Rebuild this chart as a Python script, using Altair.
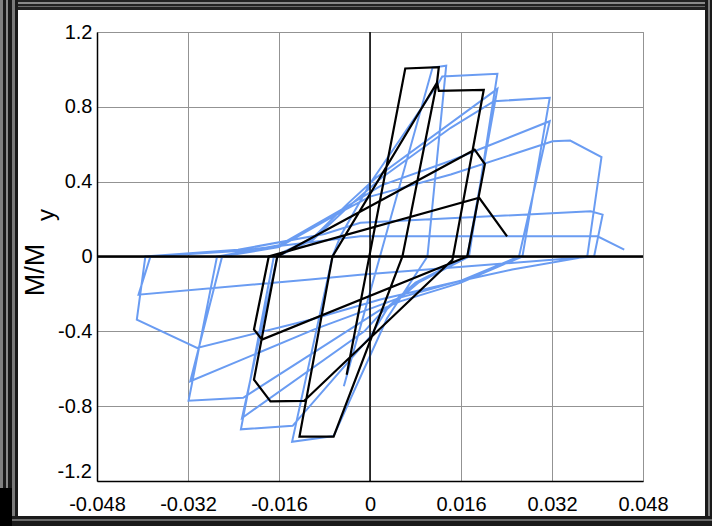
import altair as alt
import pandas as pd

# ---------------- data ----------------
blue_x = [-0.0046, 0.0110, 0.0134, 0.0101,
          0.0030, -0.0064, -0.0137, -0.0066,
          -0.0052, 0.0001, 0.0121, 0.0127, 0.0224, 0.0174,
          0.0085, 0.0030, 0.0000, -0.0136, -0.0227, -0.0169,
          -0.0100, -0.0040, 0.0010, 0.0224, 0.0171,
          0.0080, 0.0020, -0.0010, -0.0225, -0.0163,
          -0.0100, -0.0040, 0.0020, 0.0142, 0.0218, 0.0316, 0.0268,
          0.0159, 0.0053, 0.0018, -0.0223, -0.0319, -0.0269,
          -0.0160, -0.0050, 0.0020, 0.0142, 0.0316, 0.0262,
          0.0159, 0.0053, -0.0099, -0.0316, -0.0260,
          -0.0160, -0.0050, 0.0000, 0.0142, 0.0321, 0.0352, 0.0407, 0.0382,
          0.0250, 0.0160, 0.0018, -0.0105, -0.0304, -0.0410, -0.0395,
          -0.0232, -0.0080, -0.0017, 0.0388, 0.0409, 0.0394,
          0.0365, -0.0017, -0.0105, -0.0407, -0.0386,
          -0.0232, -0.0017, 0.0400, 0.0447]
blue_y = [-0.694, 1.010, 1.020, 0.000,
          -0.330, -0.960, -0.990, 0.000,
          0.108, 0.394, 0.930, 0.962, 0.977, 0.000,
          -0.140, -0.280, -0.430, -0.905, -0.924, 0.000,
          0.100, 0.280, 0.420, 0.896, 0.000,
          -0.140, -0.300, -0.400, -0.863, 0.000,
          0.090, 0.260, 0.420, 0.688, 0.830, 0.848, 0.000,
          -0.141, -0.240, -0.285, -0.755, -0.771, 0.000,
          0.060, 0.250, 0.380, 0.512, 0.723, 0.000,
          -0.130, -0.220, -0.391, -0.667, 0.000,
          0.050, 0.240, 0.320, 0.438, 0.616, 0.620, 0.531, 0.000,
          -0.070, -0.130, -0.230, -0.338, -0.489, -0.338, 0.000,
          0.036, 0.120, 0.180, 0.242, 0.224, 0.000,
          -0.007, -0.097, -0.123, -0.204, 0.000,
          0.030, 0.108, 0.108, 0.037]

black_x = [-0.0041, 0.0062, 0.0121, 0.0118, 0.0057,
           -0.0064, -0.0124, -0.0066,
           0.0118, 0.0121, 0.0200, 0.0145,
           -0.0116, -0.0175, -0.0204, -0.0163,
           0.0184, 0.0202, 0.0171,
           -0.0190, -0.0204, -0.0178,
           0.0192, 0.0241]
black_y = [-0.632, 1.005, 1.012, 0.935, 0.000,
           -0.963, -0.963, 0.000,
           0.930, 0.885, 0.891, -0.017,
           -0.772, -0.774, -0.658, 0.000,
           0.571, 0.494, 0.000,
           -0.444, -0.390, 0.000,
           0.314, 0.107]

x_ticks = [-0.048, -0.032, -0.016, 0, 0.016, 0.032, 0.048]
y_ticks = [-1.2, -0.8, -0.4, 0, 0.4, 0.8, 1.2]

blue_df = pd.DataFrame({"x": blue_x, "y": blue_y, "i": range(len(blue_x))})
black_df = pd.DataFrame({"x": black_x, "y": black_y, "i": range(len(black_x))})
one = pd.DataFrame({"a": [0]})

# ---------------- layout ----------------
W, H = 546, 449
L, T = 97, 32
R = 712 - L - W
B = 526 - T - H

LABEL_FONT = "Liberation Sans, Arial, sans-serif"
LABEL_SIZE = 20

xscale = alt.Scale(domain=[-0.048, 0.048], nice=False, zero=False)
yscale = alt.Scale(domain=[-1.2, 1.2], nice=False, zero=False)

xaxis = alt.Axis(
    values=x_ticks, title=None, grid=True, gridColor="#939393", gridWidth=1,
    ticks=False, domain=True, domainColor="#000000", domainWidth=1.5,
    labelFont=LABEL_FONT, labelFontSize=LABEL_SIZE, labelColor="#000000", labelPadding=13,
    labelOverlap=False, labelBound=False, labelFlush=False,
    labelExpr="datum.value == 0 ? '0' : (datum.value < 0 ? '-' : '') + format(abs(datum.value), '.3f')",
)
# the lowest y label is drawn separately (it sits a little higher in the original)
yaxis = alt.Axis(
    values=y_ticks, title=None, grid=True, gridColor="#939393", gridWidth=1,
    ticks=False, domain=True, domainColor="#000000", domainWidth=1.5,
    labelFont=LABEL_FONT, labelFontSize=LABEL_SIZE, labelColor="#000000", labelPadding=5,
    labelOverlap=False, labelBound=False, labelFlush=False,
    labelExpr="datum.value <= -1.19 ? '' : datum.value == 0 ? '0' : (datum.value < 0 ? '-' : '') + format(abs(datum.value), '.1f')",
)

blue = alt.Chart(blue_df).mark_line(color="#6a9cf2", strokeWidth=2).encode(
    x=alt.X("x:Q", scale=xscale, axis=xaxis),
    y=alt.Y("y:Q", scale=yscale, axis=yaxis),
    order="i:Q",
)
black = alt.Chart(black_df).mark_line(color="#000000", strokeWidth=2.2).encode(
    x=alt.X("x:Q", scale=xscale),
    y=alt.Y("y:Q", scale=yscale),
    order="i:Q",
)

zero_df = pd.DataFrame({"v": [0.0]})
hzero = alt.Chart(zero_df).mark_rule(color="#000000", strokeWidth=2.5).encode(
    y=alt.Y("v:Q", scale=yscale))
vzero = alt.Chart(zero_df).mark_rule(color="#000000", strokeWidth=1.5).encode(
    x=alt.X("v:Q", scale=xscale))

low_label = alt.Chart(pd.DataFrame({"v": [y_ticks[0]], "t": ["-1.2"]})).mark_text(
    font=LABEL_FONT, fontSize=LABEL_SIZE, align="right", baseline="middle",
    color="#000000", dy=-9,
).encode(y=alt.Y("v:Q", scale=yscale), x=alt.value(-5), text="t:N")

title_main = alt.Chart(one).mark_text(
    text="M/M", angle=270, font="Liberation Sans, Arial, sans-serif", fontSize=27,
    align="center", baseline="middle", color="#000000",
).encode(x=alt.value(36 - L), y=alt.value(270 - T))
title_sub = alt.Chart(one).mark_text(
    text="y", angle=270, font="Liberation Sans, Arial, sans-serif", fontSize=24,
    align="center", baseline="middle", color="#000000",
).encode(x=alt.value(47 - L), y=alt.value(215 - T))

# decorative window frame around the picture (canvas pixel coordinates)
frame_parts = [
    (0, 712, 0, 10, "#222222"),
    (0, 712, 2, 4, "#8a8a8a"),
    (0, 712, 6, 7, "#6a6a6a"),
    (0, 18, 0, 526, "#1a1a1a"),
    (0, 3, 0, 526, "#808080"),
    (6, 8, 0, 526, "#8a8a8a"),
    (12, 15, 0, 526, "#7a7a7a"),
    (705, 712, 0, 526, "#1a1a1a"),
    (708, 710, 0, 526, "#7a7a7a"),
    (0, 712, 516, 526, "#1a1a1a"),
    (0, 712, 519, 521, "#6a6a6a"),
    (0, 12, 488, 526, "#000000"),
]
frame_layers = []
for x0, x1, y0, y1, c in frame_parts:
    frame_layers.append(
        alt.Chart(one).mark_rect(color=c).encode(
            x=alt.value(x0 - L), x2=alt.value(x1 - L),
            y=alt.value(y0 - T), y2=alt.value(y1 - T),
        )
    )

chart = alt.layer(
    blue, hzero, vzero, black, low_label, title_main, title_sub, *frame_layers
).properties(
    width=W, height=H,
    padding={"left": L, "top": T, "right": R, "bottom": B},
    autosize=alt.AutoSizeParams(type="none"),
    background="white",
).configure_view(stroke="#888888", strokeWidth=1)

chart.save("out.html", embed_options={"renderer": "svg", "actions": False})
